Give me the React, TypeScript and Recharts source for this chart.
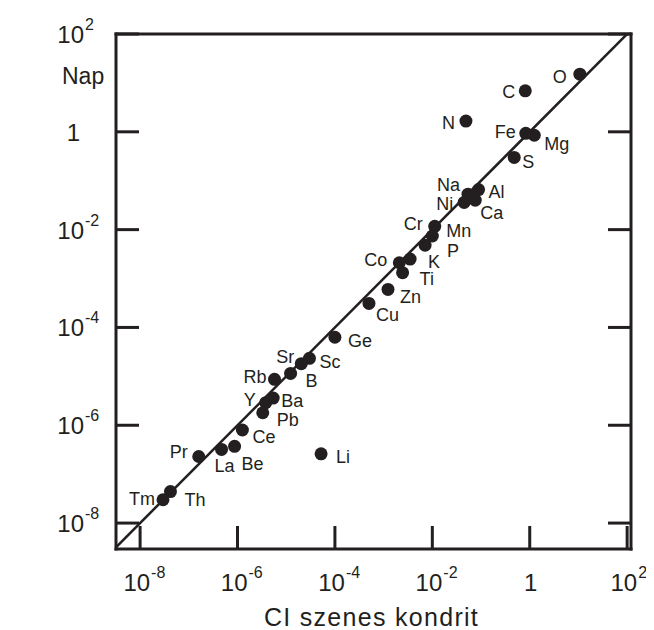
import React from 'react';
import { ScatterChart, Scatter, XAxis, YAxis, ReferenceLine } from 'recharts';

// element abundances relative to Si (log-log)
const elements = ['O', 'C', 'N', 'Fe', 'Mg', 'S', 'Al', 'Na', 'Ni', 'Ca', 'Cr', 'Mn', 'P', 'K', 'Co', 'Ti', 'Zn', 'Cu', 'Ge', 'Sc', 'Sr', 'B', 'Rb', 'Ba', 'Y', 'Pb', 'Ce', 'Be', 'La', 'Li', 'Pr', 'Th', 'Tm'];
const chondrite = [10.7, 0.81, 0.049, 0.83, 1.24, 0.48, 0.089, 0.054, 0.045, 0.076, 0.0112, 0.01, 0.0071, 0.0035, 0.0021, 0.00245, 0.00123, 0.0005, 1.0e-4, 3.0e-5, 2.04e-5, 1.23e-5, 5.75e-6, 5.4e-6, 3.8e-6, 3.3e-6, 1.26e-6, 8.7e-7, 4.7e-7, 5.2e-5, 1.6e-7, 4.2e-8, 2.95e-8];
const sun = [15.1, 6.9, 1.66, 0.93, 0.85, 0.3, 0.066, 0.053, 0.036, 0.04, 0.0117, 0.0074, 0.0048, 0.0025, 0.0021, 0.00132, 0.0006, 0.00031, 6.3e-5, 2.34e-5, 1.82e-5, 1.15e-5, 8.7e-6, 3.6e-6, 2.9e-6, 1.8e-6, 8.0e-7, 3.7e-7, 3.2e-7, 2.6e-7, 2.3e-7, 4.4e-8, 3.0e-8];
const decadeTicks = [1e-8, 1e-6, 1e-4, 1e-2, 1, 1e2];

const X_MIN = 3.2e-9;
const X_MAX = 120;
const Y_MIN = 2.95e-9;
const Y_MAX = 100;

const INK = '#231f20';
const FONT = '"Liberation Sans", Arial, Helvetica, sans-serif';

// where each element name sits relative to its dot: [dx, dy, anchor]
const labelPos: Record<string, [number, number, 'start' | 'end' | 'middle']> = {
  O: [-13, 3, 'end'], C: [-10, 1, 'end'], N: [-11, 2, 'end'], Fe: [-10, -2, 'end'],
  Mg: [10, 8, 'start'], S: [8, 4, 'start'], Al: [10, 2, 'start'], Na: [-8, -10, 'end'],
  Ni: [-11, 1, 'end'], Ca: [5, 13, 'start'], Cr: [-12, -3, 'end'], Mn: [14, -5, 'start'],
  P: [22, 5, 'start'], K: [18, 3, 'start'], Co: [-12, -3, 'end'], Ti: [17, 6, 'start'],
  Zn: [12, 7, 'start'], Cu: [7, 11, 'start'], Ge: [13, 3, 'start'], Sc: [10, 3, 'start'],
  Sr: [-7, -7, 'end'], B: [15, 7, 'start'], Rb: [-8, -3, 'end'], Ba: [8, 3, 'start'],
  Y: [-10, -3, 'end'], Pb: [14, 7, 'start'], Ce: [10, 7, 'start'], Be: [7, 17, 'start'],
  La: [-7, 16, 'start'], Li: [15, 3, 'start'], Pr: [-11, -5, 'end'], Th: [14, 8, 'start'],
  Tm: [-8, -1, 'end'],
};

const points = elements.map((name, i) => ({ name, x: chondrite[i], y: sun[i] }));

const TICK_LEN = 23;

const expOf = (v: number) => Math.round(Math.log10(v));

const BottomTick = (props: any) => {
  const { x, y, payload } = props;
  const e = expOf(payload.value);
  return (
    <g>
      <line x1={x} x2={x} y1={y} y2={y - TICK_LEN} stroke={INK} strokeWidth={3} />
      {e === 0 ? (
        <text x={x + 1} y={y + 42} textAnchor="middle" fontSize={24} fontFamily={FONT} fill={INK}>1</text>
      ) : (
        <>
          <text x={x + 10} y={y + 42} textAnchor="end" fontSize={24} fontFamily={FONT} fill={INK}>10</text>
          <text x={x + 11} y={y + 29} textAnchor="start" fontSize={16} fontFamily={FONT} fill={INK}>{e}</text>
        </>
      )}
    </g>
  );
};

const LeftTick = (props: any) => {
  const { x, y, payload } = props;
  const e = expOf(payload.value);
  return (
    <g>
      <line x1={x} x2={x + TICK_LEN} y1={y} y2={y} stroke={INK} strokeWidth={3} />
      {e === 0 ? (
        <text x={x - 36} y={y + 9} textAnchor="end" fontSize={24} fontFamily={FONT} fill={INK}>1</text>
      ) : (
        <>
          <text x={x - 32} y={y + 9} textAnchor="end" fontSize={24} fontFamily={FONT} fill={INK}>10</text>
          <text x={x - 31} y={y - 4} textAnchor="start" fontSize={16} fontFamily={FONT} fill={INK}>{e}</text>
        </>
      )}
    </g>
  );
};

const TopTick = (props: any) => {
  const { x, y } = props;
  return <line x1={x} x2={x} y1={y} y2={y + TICK_LEN} stroke={INK} strokeWidth={3} />;
};

const RightTick = (props: any) => {
  const { x, y } = props;
  return <line x1={x} x2={x - TICK_LEN} y1={y} y2={y} stroke={INK} strokeWidth={3} />;
};

const ElementDot = (props: any) => {
  const { cx, cy, payload } = props;
  const [dx, dy, anchor] = labelPos[payload.name] || [10, 0, 'start'];
  return (
    <g>
      <circle cx={cx} cy={cy} r={6.5} fill={INK} />
      <text x={cx + dx} y={cy + dy} dy="0.35em" textAnchor={anchor} fontSize={18} fontFamily={FONT} fill={INK}>
        {payload.name}
      </text>
    </g>
  );
};

const frame = { stroke: INK, strokeWidth: 3, strokeLinecap: 'square' as const };

export default function App() {
  return (
    <div style={{ position: 'relative', width: 638, height: 622 }}>
      <ScatterChart width={638} height={614} margin={{ top: 25, right: 14, bottom: 43, left: 48 }}>
        <XAxis
          xAxisId="b"
          type="number"
          dataKey="x"
          scale="log"
          domain={[X_MIN, X_MAX]}
          allowDataOverflow
          ticks={decadeTicks}
          interval={0}
          tickSize={0}
          tickMargin={0}
          tickLine={false}
          axisLine={frame}
          tick={<BottomTick />}
          height={30}
        />
        <XAxis
          xAxisId="t"
          orientation="top"
          type="number"
          scale="log"
          domain={[X_MIN, X_MAX]}
          allowDataOverflow
          ticks={decadeTicks}
          interval={0}
          tickSize={0}
          tickMargin={0}
          tickLine={false}
          axisLine={frame}
          tick={<TopTick />}
          height={1}
        />
        <YAxis
          yAxisId="l"
          type="number"
          dataKey="y"
          scale="log"
          domain={[Y_MIN, Y_MAX]}
          allowDataOverflow
          ticks={decadeTicks}
          interval={0}
          tickSize={0}
          tickMargin={0}
          tickLine={false}
          axisLine={frame}
          tick={<LeftTick />}
          width={60}
        />
        <YAxis
          yAxisId="r"
          orientation="right"
          type="number"
          scale="log"
          domain={[Y_MIN, Y_MAX]}
          allowDataOverflow
          ticks={decadeTicks}
          interval={0}
          tickSize={0}
          tickMargin={0}
          tickLine={false}
          axisLine={frame}
          tick={<RightTick />}
          width={1}
        />
        <ReferenceLine
          xAxisId="b"
          yAxisId="l"
          segment={[{ x: X_MIN, y: X_MIN }, { x: X_MAX, y: X_MAX }]}
          stroke={INK}
          strokeWidth={2.5}
          ifOverflow="hidden"
        />
        <Scatter
          xAxisId="b"
          yAxisId="l"
          data={points}
          shape={<ElementDot />}
          isAnimationActive={false}
        />
      </ScatterChart>
      <svg width={638} height={622} style={{ position: 'absolute', left: 0, top: 0, pointerEvents: 'none' }}>
        <text x={54} y={76} fontSize={23} fontFamily={FONT} fill={INK}>Nap</text>
        <text x={363.5} y={618} textAnchor="middle" fontSize={25} letterSpacing={1.3} fontFamily={FONT} fill={INK}>
          CI szenes kondrit
        </text>
      </svg>
    </div>
  );
}
